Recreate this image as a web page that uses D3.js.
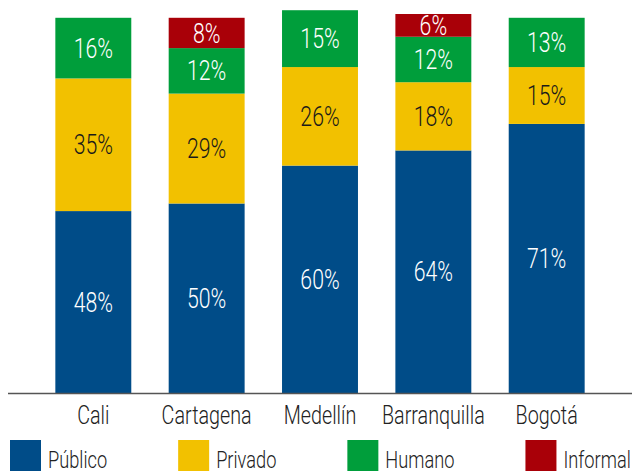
<!DOCTYPE html>
<html>
<head>
<meta charset="utf-8">
<script src="https://cdn.jsdelivr.net/npm/d3@7"></script>
<style>
  body { margin: 0; background: #fff; }
  svg { display: block; font-family: Roboto, "Liberation Sans", sans-serif; font-weight: 300; }
</style>
</head>
<body>
<svg width="634" height="473"></svg>
<script>
const cities = ["Cali", "Cartagena", "Medellín", "Barranquilla", "Bogotá"];
const series = ["Público", "Privado", "Humano", "Informal"];
const publico = [48, 50, 60, 64, 71];
const privado = [35, 29, 26, 18, 15];
const humano = [16, 12, 15, 12, 13];
const informal = [0, 8, 0, 6, 0];

const colors = ["#004c88", "#f2c100", "#009e3b", "#a90008"];
const textColors = ["#fff", "#1a1a1a", "#fff", "#fff"];

const sx = 0.76; // squeeze text horizontally, the source font is condensed
const svg = d3.select("svg");

const rows = cities.map((c, i) => ({
    city: c,
    "Público": publico[i],
    "Privado": privado[i],
    "Humano": humano[i],
    "Informal": informal[i]
}));

const x = d3.scaleBand()
    .domain(cities)
    .range([10, 630])
    .paddingInner(0.33)
    .paddingOuter(0.4);

const y = d3.scaleLinear()
    .domain([0, 100])
    .range([393, 14]);

const color = d3.scaleOrdinal().domain(series).range(colors);
const tColor = d3.scaleOrdinal().domain(series).range(textColors);

const stacked = d3.stack().keys(series)(rows);

const layers = svg.append("g").selectAll("g")
    .data(stacked)
    .enter()
    .append("g")
    .attr("fill", d => color(d.key));

layers.selectAll("rect")
    .data(d => d.filter(p => p[1] > p[0]))
    .enter()
    .append("rect")
    .attr("x", d => x(d.data.city))
    .attr("y", d => y(d[1]))
    .attr("width", x.bandwidth())
    .attr("height", d => y(d[0]) - y(d[1]));

// value labels
stacked.forEach(s => {
    svg.append("g").selectAll("text")
        .data(s.filter(p => p[1] > p[0]))
        .enter()
        .append("text")
        .attr("transform", d => `translate(${x(d.data.city) + x.bandwidth() / 2},${(y(d[0]) + y(d[1])) / 2}) scale(${sx},1)`)
        .attr("text-anchor", "middle")
        .attr("dominant-baseline", "central")
        .attr("fill", tColor(s.key))
        .style("font-size", "28px")
        .text(d => (d[1] - d[0]) + "%");
});

// baseline
svg.append("line")
    .attr("x1", 8).attr("x2", 632)
    .attr("y1", 393.5).attr("y2", 393.5)
    .attr("stroke", "#555")
    .attr("stroke-width", 1.6);

// category labels
svg.append("g").selectAll("text")
    .data(cities)
    .enter()
    .append("text")
    .attr("transform", d => `translate(${x(d) + x.bandwidth() / 2},424) scale(${sx},1)`)
    .attr("text-anchor", "middle")
    .attr("fill", "#222")
    .style("font-size", "26px")
    .text(d => d);

// legend
const leg = svg.append("g");
let lx = 10;
series.forEach(s => {
    const g = leg.append("g").attr("transform", `translate(${lx},440)`);
    g.append("rect").attr("width", 31).attr("height", 31).attr("fill", color(s));
    const t = g.append("text")
        .attr("transform", `translate(38,28) scale(${sx},1)`)
        .attr("fill", "#222")
        .style("font-size", "24px")
        .text(s);
    lx += 38 + t.node().getComputedTextLength() * sx + 71;
});
</script>
</body>
</html>
